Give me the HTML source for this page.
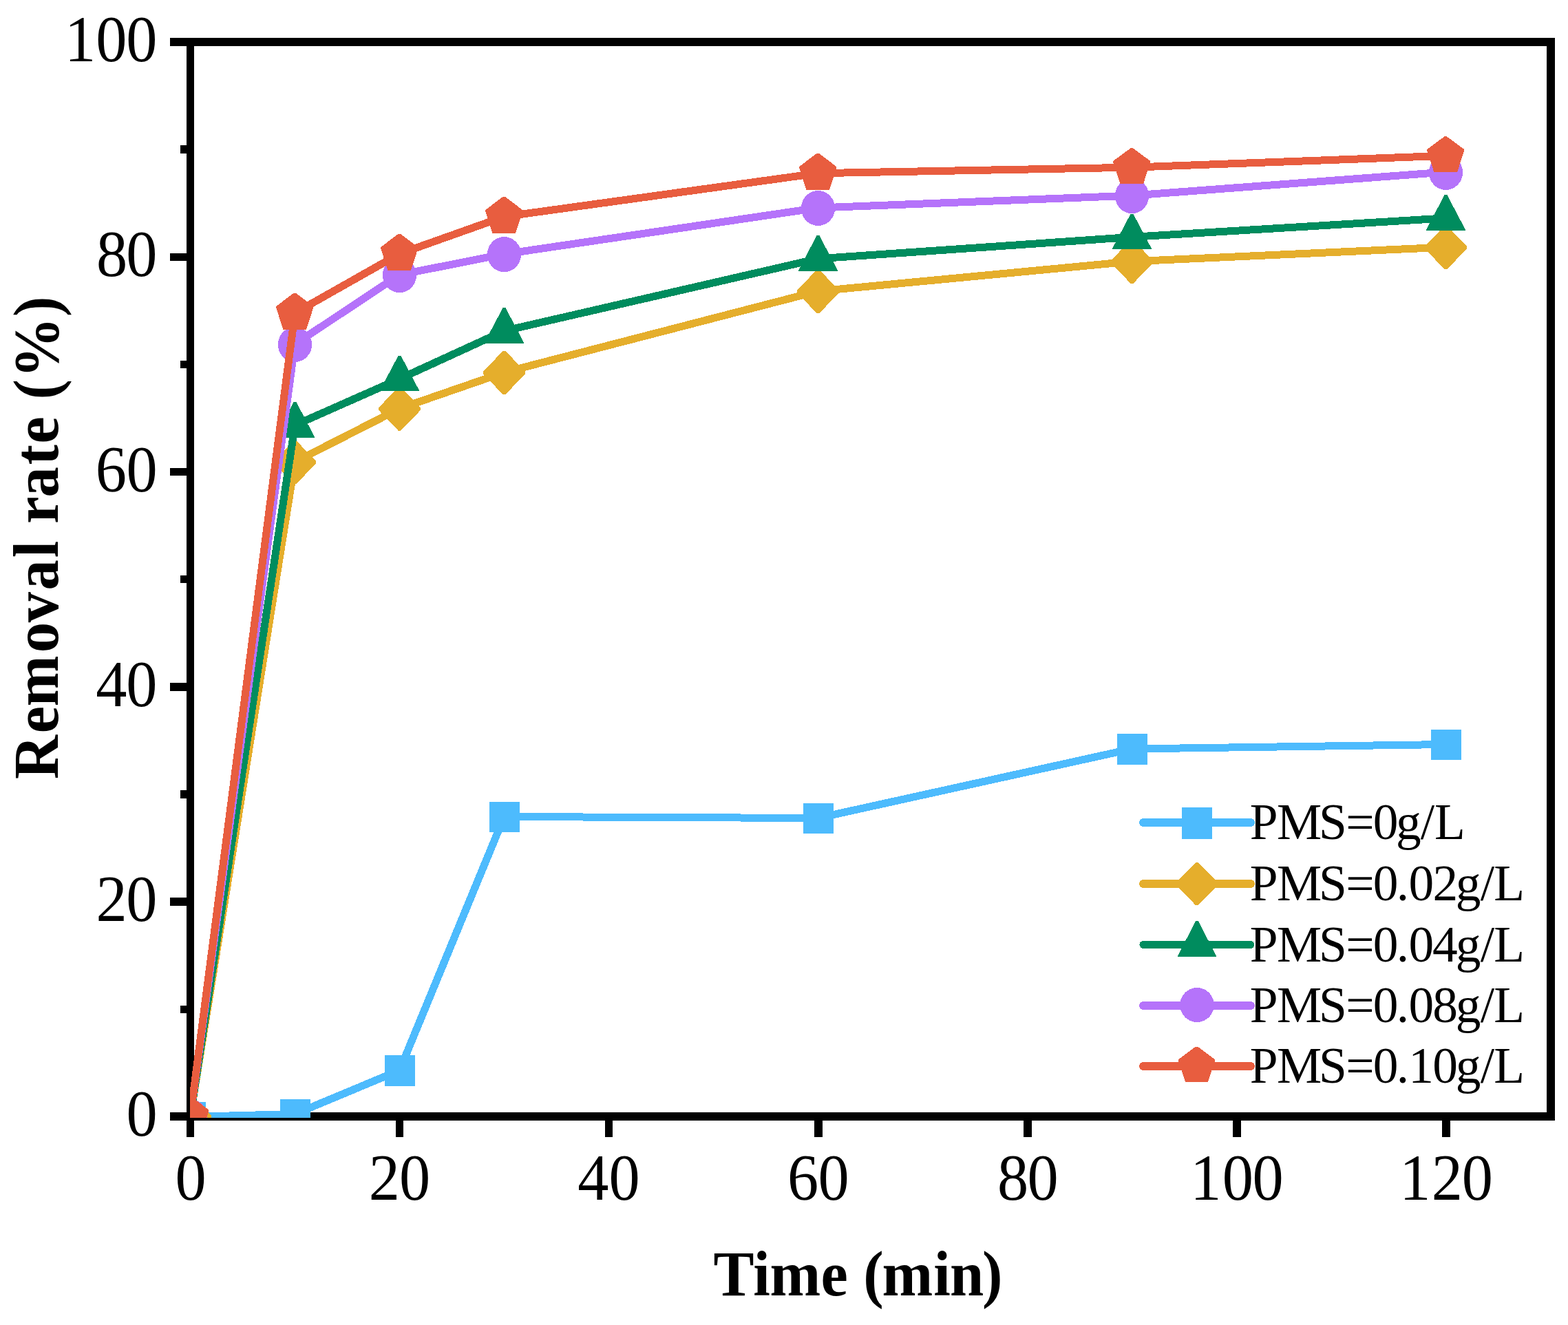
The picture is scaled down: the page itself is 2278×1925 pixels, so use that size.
<!DOCTYPE html>
<html lang="en"><head><meta charset="utf-8"><title>Removal rate vs. time</title>
<style>
html,body{margin:0;padding:0;background:#fff;}
body{width:2278px;height:1925px;overflow:hidden;}
svg{display:block;}
text{font-family:"Liberation Serif","DejaVu Serif",serif;fill:#000;white-space:pre;}
.b{font-weight:bold;}
</style></head><body>
<svg xmlns="http://www.w3.org/2000/svg" width="2278" height="1925" viewBox="0 0 2278 1925">
<rect x="0" y="0" width="2278" height="1925" fill="#fff"/>
<g fill="#000" shape-rendering="crispEdges">
<rect x="247" y="55" width="2012" height="12"/>
<rect x="247" y="1616" width="2012" height="12"/>
<rect x="271" y="55" width="11" height="1597"/>
<rect x="2247" y="55" width="12" height="1573"/>
<rect x="247" y="368" width="24" height="11"/>
<rect x="247" y="680" width="24" height="11"/>
<rect x="247" y="992" width="24" height="12"/>
<rect x="247" y="1304" width="24" height="12"/>
<rect x="262" y="211" width="9" height="12"/>
<rect x="262" y="524" width="9" height="11"/>
<rect x="262" y="836" width="9" height="11"/>
<rect x="262" y="1148" width="9" height="12"/>
<rect x="262" y="1461" width="9" height="11"/>
<rect x="575" y="1628" width="11" height="24"/>
<rect x="879" y="1628" width="11" height="24"/>
<rect x="1183" y="1628" width="12" height="24"/>
<rect x="1487" y="1628" width="12" height="24"/>
<rect x="1791" y="1628" width="12" height="24"/>
<rect x="2095" y="1628" width="12" height="24"/>
</g>
<clipPath id="plot"><rect x="276" y="61" width="1977" height="1563"/></clipPath>
<g clip-path="url(#plot)" shape-rendering="crispEdges">
<polyline points="276.5,1622.5 428.5,1618.5 580.5,1555 732.5,1186.5 1188.5,1188.5 1644.5,1088 2100.5,1081.5" fill="none" stroke="#4DBBFD" stroke-width="11" stroke-linejoin="round"/>
<rect x="255" y="1601" width="44" height="44" fill="#4DBBFD"/>
<rect x="407" y="1597" width="44" height="44" fill="#4DBBFD"/>
<rect x="559" y="1533" width="44" height="45" fill="#4DBBFD"/>
<rect x="711" y="1165" width="44" height="44" fill="#4DBBFD"/>
<rect x="1167" y="1167" width="44" height="44" fill="#4DBBFD"/>
<rect x="1623" y="1066" width="44" height="45" fill="#4DBBFD"/>
<rect x="2079" y="1060" width="44" height="44" fill="#4DBBFD"/>
<polyline points="276.5,1622 428.5,671.1 580.5,593.6 732.5,541 1188.5,423 1644.5,379.8 2100.5,359.1" fill="none" stroke="#E5AE2C" stroke-width="11" stroke-linejoin="round"/>
<polygon points="274.7,1590.9 278.3,1590.9 307,1620.7 307,1624.3 278.3,1654.1 274.7,1654.1 246,1624.3 246,1620.7" fill="#E5AE2C"/>
<polygon points="426.7,640 430.3,640 459,669.8 459,673.4 430.3,703.2 426.7,703.2 398,673.4 398,669.8" fill="#E5AE2C"/>
<polygon points="578.7,562.5 582.3,562.5 611,592.3 611,595.9 582.3,625.7 578.7,625.7 550,595.9 550,592.3" fill="#E5AE2C"/>
<polygon points="730.7,509.9 734.3,509.9 763,539.7 763,543.3 734.3,573.1 730.7,573.1 702,543.3 702,539.7" fill="#E5AE2C"/>
<polygon points="1186.7,391.9 1190.3,391.9 1219,421.7 1219,425.3 1190.3,455.1 1186.7,455.1 1158,425.3 1158,421.7" fill="#E5AE2C"/>
<polygon points="1642.7,348.7 1646.3,348.7 1675,378.5 1675,382.1 1646.3,411.9 1642.7,411.9 1614,382.1 1614,378.5" fill="#E5AE2C"/>
<polygon points="2098.7,328 2102.3,328 2131,357.8 2131,361.4 2102.3,391.2 2098.7,391.2 2070,361.4 2070,357.8" fill="#E5AE2C"/>
<polyline points="276.5,1622 428.5,617.7 580.5,550.4 732.5,480.7 1188.5,375.85 1644.5,344.35 2100.5,316.9" fill="none" stroke="#008C5E" stroke-width="11" stroke-linejoin="round"/>
<polygon points="274.7,1588.2 278.3,1588.2 305.05,1638.9 305.05,1639.9 247.95,1639.9 247.95,1638.9" fill="#008C5E"/>
<polygon points="426.7,583.9 430.3,583.9 457.05,634.6 457.05,635.6 399.95,635.6 399.95,634.6" fill="#008C5E"/>
<polygon points="578.7,516.6 582.3,516.6 609.05,567.3 609.05,568.3 551.95,568.3 551.95,567.3" fill="#008C5E"/>
<polygon points="730.7,446.9 734.3,446.9 761.05,497.6 761.05,498.6 703.95,498.6 703.95,497.6" fill="#008C5E"/>
<polygon points="1186.7,342.05 1190.3,342.05 1217.05,392.75 1217.05,393.75 1159.95,393.75 1159.95,392.75" fill="#008C5E"/>
<polygon points="1642.7,310.55 1646.3,310.55 1673.05,361.25 1673.05,362.25 1615.95,362.25 1615.95,361.25" fill="#008C5E"/>
<polygon points="2098.7,283.1 2102.3,283.1 2129.05,333.8 2129.05,334.8 2071.95,334.8 2071.95,333.8" fill="#008C5E"/>
<polyline points="276.5,1622 428.5,500 580.5,399.2 732.5,369.1 1188.5,302 1644.5,284.1 2100.5,249.95" fill="none" stroke="#B573FA" stroke-width="11" stroke-linejoin="round"/>
<ellipse cx="276.5" cy="1622.5" rx="24.6" ry="25.5" fill="#B573FA"/>
<ellipse cx="428.5" cy="500.5" rx="24.6" ry="25.5" fill="#B573FA"/>
<ellipse cx="580.5" cy="399.7" rx="24.6" ry="25.5" fill="#B573FA"/>
<ellipse cx="732.5" cy="369.6" rx="24.6" ry="25.5" fill="#B573FA"/>
<ellipse cx="1188.5" cy="302.5" rx="24.6" ry="25.5" fill="#B573FA"/>
<ellipse cx="1644.5" cy="284.6" rx="24.6" ry="25.5" fill="#B573FA"/>
<ellipse cx="2100.5" cy="250.45" rx="24.6" ry="25.5" fill="#B573FA"/>
<polyline points="276.5,1622 428.5,454.7 580.5,368.7 732.5,314.7 1188.5,251.7 1644.5,243.2 2100.5,226.25" fill="none" stroke="#E85D3F" stroke-width="11" stroke-linejoin="round"/>
<polygon points="274.4,1593.2 278,1593.2 303.25,1612.45 303.25,1614.45 292.92,1646.2 259.48,1646.2 249.15,1614.45 249.15,1612.45" fill="#E85D3F"/>
<polygon points="426.4,425.9 430,425.9 455.25,445.15 455.25,447.15 444.92,478.9 411.48,478.9 401.15,447.15 401.15,445.15" fill="#E85D3F"/>
<polygon points="578.4,339.9 582,339.9 607.25,359.15 607.25,361.15 596.92,392.9 563.48,392.9 553.15,361.15 553.15,359.15" fill="#E85D3F"/>
<polygon points="730.4,285.9 734,285.9 759.25,305.15 759.25,307.15 748.92,338.9 715.48,338.9 705.15,307.15 705.15,305.15" fill="#E85D3F"/>
<polygon points="1186.4,222.9 1190,222.9 1215.25,242.15 1215.25,244.15 1204.92,275.9 1171.48,275.9 1161.15,244.15 1161.15,242.15" fill="#E85D3F"/>
<polygon points="1642.4,215.4 1646,215.4 1671.25,233.95 1671.25,235.95 1660.92,267.4 1627.48,267.4 1617.15,235.95 1617.15,233.95" fill="#E85D3F"/>
<polygon points="2098.4,198.45 2102,198.45 2127.25,217 2127.25,219 2116.92,250.45 2083.48,250.45 2073.15,219 2073.15,217" fill="#E85D3F"/>
</g>
<text font-size="93" transform="translate(183.38 1650.3) scale(0.972 1.016)" x="0" y="0">0</text>
<text font-size="93" transform="translate(139.41 1338.1) scale(0.972 1.016)" x="0 45.24" y="0">20</text>
<text font-size="93" transform="translate(139.22 1026) scale(0.972 1.016)" x="0 45.43" y="0">40</text>
<text font-size="93" transform="translate(138.81 713.8) scale(0.972 1.016)" x="0 45.86" y="0">60</text>
<text font-size="93" transform="translate(139.93 401.2) scale(0.972 1.016)" x="0 44.7" y="0">80</text>
<text font-size="93" transform="translate(94.11 89.1) scale(0.972 1.016)" x="0 46.54 91.84" y="0">100</text>
<text font-size="93" transform="translate(254.4 1742.8) scale(0.972 1.016)" x="0" y="0">0</text>
<text font-size="93" transform="translate(535.81 1742.8) scale(0.972 1.016)" x="0 45.52" y="0">20</text>
<text font-size="93" transform="translate(839.37 1742.8) scale(0.972 1.016)" x="0 46.32" y="0">40</text>
<text font-size="93" transform="translate(1144.01 1742.8) scale(0.972 1.016)" x="0 45.78" y="0">60</text>
<text font-size="93" transform="translate(1448.9 1742.8) scale(0.972 1.016)" x="0 44.75" y="0">80</text>
<text font-size="93" transform="translate(1729.34 1742.8) scale(0.972 1.016)" x="0 47.69 92.86" y="0">100</text>
<text font-size="93" transform="translate(2033.34 1742.8) scale(0.972 1.016)" x="0 47.7 92.96" y="0">120</text>
<text class="b" font-size="92.7" transform="translate(1036.43 1881.9) scale(0.955 1)" x="0 60.62 86.03 163.35 204.5 228.07 256.71 335.02 359.66 409" y="0">Time (min)</text>
<text class="b" font-size="92.7" transform="translate(84 1131.91) rotate(-90) scale(0.955 1)" x="0 69.79 110.69 192.39 238.51 287.46 336.71 362.46 388.62 428.66 477.91 510.42 551.56 577.44 610.22 703.71" y="0">Removal rate (%)</text>
<g shape-rendering="crispEdges">
<line x1="1661" y1="1195" x2="1817" y2="1195" stroke="#4DBBFD" stroke-width="12" stroke-linecap="round"/>
<rect x="1717" y="1173" width="44" height="46" fill="#4DBBFD"/>
<line x1="1661" y1="1284" x2="1817" y2="1284" stroke="#E5AE2C" stroke-width="12" stroke-linecap="round"/>
<polygon points="1737.2,1253 1740.8,1253 1770,1282.3 1770,1285.9 1740.8,1315.2 1737.2,1315.2 1708,1285.9 1708,1282.3" fill="#E5AE2C"/>
<line x1="1661" y1="1372.5" x2="1817" y2="1372.5" stroke="#008C5E" stroke-width="11" stroke-linecap="round"/>
<polygon points="1737.2,1337.9 1740.8,1337.9 1767.05,1388.9 1767.05,1389.9 1710.95,1389.9 1710.95,1388.9" fill="#008C5E"/>
<line x1="1661" y1="1461" x2="1817" y2="1461" stroke="#B573FA" stroke-width="12" stroke-linecap="round"/>
<ellipse cx="1739.05" cy="1460" rx="24.8" ry="25" fill="#B573FA"/>
<line x1="1661" y1="1549" x2="1817" y2="1549" stroke="#E85D3F" stroke-width="12" stroke-linecap="round"/>
<polygon points="1736.7,1520.8 1740.3,1520.8 1765.1,1539.29 1765.1,1541.29 1754.94,1571.9 1722.06,1571.9 1711.9,1541.29 1711.9,1539.29" fill="#E85D3F"/>
</g>
<text font-size="74.5" transform="translate(1815.86 1219.2) scale(0.985 1)" x="0 39.68 101.79 141.49 181.62 215.5 251.57 272.31" y="0">PMS=0g/L</text>
<text font-size="74.5" transform="translate(1815.86 1307.9) scale(0.985 1)" x="0 39.68 101.79 141.49 181.62 216.11 234.21 269.76 303.42 339.9 359.72" y="0">PMS=0.02g/L</text>
<text font-size="74.5" transform="translate(1815.86 1396.5) scale(0.985 1)" x="0 39.68 101.79 141.49 181.62 216.11 234.21 269.19 303.42 339.9 359.72" y="0">PMS=0.04g/L</text>
<text font-size="74.5" transform="translate(1815.86 1484.9) scale(0.985 1)" x="0 39.68 101.79 141.49 181.62 216.11 234.21 269.34 303.42 339.9 359.72" y="0">PMS=0.08g/L</text>
<text font-size="74.5" transform="translate(1815.86 1573.3) scale(0.985 1)" x="0 39.68 101.79 141.49 181.62 216.11 233.78 269.34 303.42 339.9 359.72" y="0">PMS=0.10g/L</text>
</svg>
</body></html>
